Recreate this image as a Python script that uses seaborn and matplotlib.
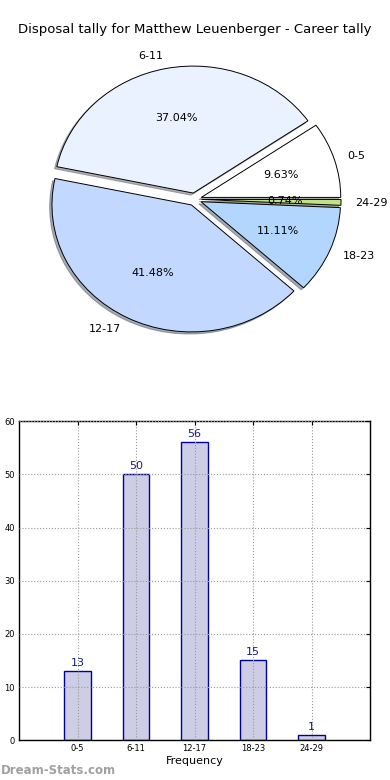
import matplotlib
matplotlib.use('Agg')
import matplotlib.pyplot as plt
import seaborn as sns
import pandas as pd

sns.set_style('white')
plt.rcParams['font.family'] = ['DejaVu Sans']
plt.rcParams['text.color'] = 'black'
plt.rcParams['xtick.color'] = 'black'
plt.rcParams['ytick.color'] = 'black'
plt.rcParams['axes.labelcolor'] = 'black'

title = 'Disposal tally for Matthew Leuenberger - Career tally'
categories = ['0-5', '6-11', '12-17', '18-23', '24-29']
counts = [13, 50, 56, 15, 1]
pie_colors = ['#ffffff', '#eaf2ff', '#c3d8ff', '#b3d6ff', '#c2e183']

fig = plt.figure(figsize=(3.9, 7.8), dpi=100)
fig.text(0.5, 1 - 30 / 780, title, ha='center', va='center', fontsize=9.5)

# pie
ax1 = fig.add_axes([0.052, 0.541, 0.894, 0.407])
wedges, texts, autotexts = ax1.pie(counts, labels=categories, colors=pie_colors,
                                   explode=[0.05] * len(counts), autopct='%1.2f%%',
                                   shadow={'ox': -0.012, 'oy': -0.012, 'shade': 0.6},
                                   startangle=0, labeldistance=1.1,
                                   pctdistance=0.6,
                                   wedgeprops={'edgecolor': 'black', 'linewidth': 0.7},
                                   textprops={'fontsize': 8})
ax1.set_aspect('auto')
ax1.set_xlim(-1.25, 1.25)
ax1.set_ylim(-1.25, 1.25)

# bars
ax2 = fig.add_axes([0.049, 0.051, 0.900, 0.409])
df = pd.DataFrame({'cat': categories, 'n': counts})
sns.barplot(data=df, x='cat', y='n', ax=ax2, width=0.45, color='#cdcde6',
            edgecolor='#00009a', linewidth=1.0, saturation=1)
for i, v in enumerate(counts):
    ax2.text(i, v + 0.6, str(v), ha='center', va='bottom', color='#1a1a80', fontsize=8)
ax2.set_xlim(-1, 5)
ax2.set_ylim(0, 60)
ax2.set_yticks(range(0, 61, 10))
ax2.set_xlabel('Frequency', fontsize=8, labelpad=2)
ax2.set_ylabel('')
ax2.tick_params(direction='in', labelsize=6, length=3, top=True, right=True, pad=3)
ax2.grid(True, linestyle=':', color='#999999', linewidth=0.8)
ax2.set_axisbelow(False)
for s in ax2.spines.values():
    s.set_color('black')
    s.set_linewidth(1.0)

fig.text(0.002, 1 - 771 / 780, 'Dream-Stats.com', ha='left', va='center',
         fontsize=8.5, color='#a0a0a0', fontweight='bold')

fig.savefig('out.png', dpi=100)
